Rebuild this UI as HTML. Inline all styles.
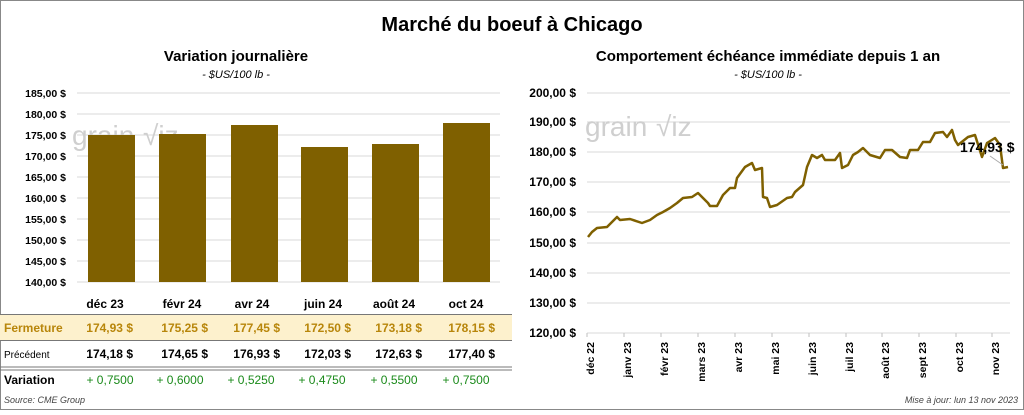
<!DOCTYPE html>
<html><head><meta charset="utf-8"><style>
body{margin:0;background:#fff;font-family:"Liberation Sans",sans-serif;}
svg text{font-family:"Liberation Sans",sans-serif;}
</style></head><body>
<svg width="1024" height="410" viewBox="0 0 1024 410" xmlns="http://www.w3.org/2000/svg">
<rect x="0.5" y="0.5" width="1023" height="409" fill="#fff" stroke="#888"/>
<text x="512" y="31" font-size="20" font-weight="bold" text-anchor="middle">Marché du boeuf à Chicago</text>
<text x="236" y="61" font-size="15" font-weight="bold" text-anchor="middle">Variation  journalière</text>
<text x="236" y="78" font-size="11" font-style="italic" text-anchor="middle">- $US/100 lb -</text>
<text x="768" y="61" font-size="15" font-weight="bold" text-anchor="middle">Comportement  échéance immédiate depuis 1 an</text>
<text x="768" y="78" font-size="11" font-style="italic" text-anchor="middle">- $US/100 lb -</text>
<!-- left grid -->
<g stroke="#d9d9d9" stroke-width="1">
<line x1="77" x2="500" y1="93" y2="93"/><line x1="77" x2="500" y1="114" y2="114"/><line x1="77" x2="500" y1="135" y2="135"/><line x1="77" x2="500" y1="156" y2="156"/><line x1="77" x2="500" y1="177" y2="177"/><line x1="77" x2="500" y1="198" y2="198"/><line x1="77" x2="500" y1="219" y2="219"/><line x1="77" x2="500" y1="240" y2="240"/><line x1="77" x2="500" y1="261" y2="261"/><line x1="77" x2="500" y1="282" y2="282"/>
</g>
<g font-size="10.5" font-weight="bold" text-anchor="end">
<text x="66" y="97">185,00 $</text><text x="66" y="118">180,00 $</text><text x="66" y="139">175,00 $</text><text x="66" y="160">170,00 $</text><text x="66" y="181">165,00 $</text><text x="66" y="202">160,00 $</text><text x="66" y="223">155,00 $</text><text x="66" y="244">150,00 $</text><text x="66" y="265">145,00 $</text><text x="66" y="286">140,00 $</text>
</g>
<text x="72" y="145" font-size="28" fill="#cfcfcf">grain</text><text x="143" y="145" font-size="28" fill="#cfcfcf">√iz</text>
<g fill="#7f6000">
<rect x="88" y="135" width="47" height="147"/><rect x="159" y="134" width="47" height="148"/><rect x="231" y="125" width="47" height="157"/><rect x="301" y="147" width="47" height="135"/><rect x="372" y="144" width="47" height="138"/><rect x="443" y="123" width="47" height="159"/>
</g>
<!-- table -->
<g font-size="12" font-weight="bold" text-anchor="middle">
<text x="105" y="308">déc 23</text><text x="182" y="308">févr 24</text><text x="252" y="308">avr 24</text><text x="323" y="308">juin 24</text><text x="394" y="308">août 24</text><text x="466" y="308">oct 24</text>
</g>
<line x1="0" x2="512" y1="314.5" y2="314.5" stroke="#777"/>
<rect x="0" y="315" width="512" height="25" fill="#fdf1cd"/>
<line x1="0" x2="512" y1="340.5" y2="340.5" stroke="#777"/>
<g font-size="12" font-weight="bold" fill="#b8860b">
<text x="4" y="332">Fermeture</text>
<g text-anchor="end"><text x="133" y="332">174,93  $</text><text x="208" y="332">175,25  $</text><text x="280" y="332">177,45  $</text><text x="351" y="332">172,50  $</text><text x="422" y="332">173,18  $</text><text x="495" y="332">178,15  $</text></g>
</g>
<text x="4" y="358" font-size="10">Précédent</text>
<g font-size="12" font-weight="bold" text-anchor="end">
<text x="133" y="358">174,18  $</text><text x="208" y="358">174,65  $</text><text x="280" y="358">176,93  $</text><text x="351" y="358">172,03  $</text><text x="422" y="358">172,63  $</text><text x="495" y="358">177,40  $</text>
</g>
<line x1="0" x2="512" y1="367" y2="367" stroke="#777"/><line x1="0" x2="512" y1="370" y2="370" stroke="#777"/>
<text x="4" y="384" font-size="12" font-weight="bold">Variation</text>
<g font-size="12" fill="#1a8a1a" text-anchor="middle">
<text x="110" y="384">+ 0,7500</text><text x="180" y="384">+ 0,6000</text><text x="251" y="384">+ 0,5250</text><text x="322" y="384">+ 0,4750</text><text x="394" y="384">+ 0,5500</text><text x="466" y="384">+ 0,7500</text>
</g>
<text x="4" y="403" font-size="9" font-style="italic" fill="#444">Source: CME Group</text>
<!-- right chart -->
<g stroke="#d9d9d9" stroke-width="1">
<line x1="587" x2="1010" y1="93" y2="93"/><line x1="587" x2="1010" y1="122" y2="122"/><line x1="587" x2="1010" y1="152" y2="152"/><line x1="587" x2="1010" y1="182" y2="182"/><line x1="587" x2="1010" y1="212" y2="212"/><line x1="587" x2="1010" y1="243" y2="243"/><line x1="587" x2="1010" y1="273" y2="273"/><line x1="587" x2="1010" y1="303" y2="303"/><line x1="587" x2="1010" y1="333" y2="333"/>
</g>
<g stroke="#bfbfbf"><line x1="587" x2="587" y1="333" y2="337"/><line x1="624" x2="624" y1="333" y2="337"/><line x1="661" x2="661" y1="333" y2="337"/><line x1="698" x2="698" y1="333" y2="337"/><line x1="735" x2="735" y1="333" y2="337"/><line x1="772" x2="772" y1="333" y2="337"/><line x1="809" x2="809" y1="333" y2="337"/><line x1="846" x2="846" y1="333" y2="337"/><line x1="882" x2="882" y1="333" y2="337"/><line x1="919" x2="919" y1="333" y2="337"/><line x1="956" x2="956" y1="333" y2="337"/><line x1="992" x2="992" y1="333" y2="337"/></g>
<g font-size="12" font-weight="bold" text-anchor="end">
<text x="576" y="97">200,00 $</text><text x="576" y="126">190,00 $</text><text x="576" y="156">180,00 $</text><text x="576" y="186">170,00 $</text><text x="576" y="216">160,00 $</text><text x="576" y="247">150,00 $</text><text x="576" y="277">140,00 $</text><text x="576" y="307">130,00 $</text><text x="576" y="337">120,00 $</text>
</g>
<g font-size="10.5" font-weight="bold" text-anchor="end">
<text transform="translate(594,342) rotate(-90)">déc 22</text>
<text transform="translate(631,342) rotate(-90)">janv 23</text>
<text transform="translate(668,342) rotate(-90)">févr 23</text>
<text transform="translate(705,342) rotate(-90)">mars 23</text>
<text transform="translate(742,342) rotate(-90)">avr 23</text>
<text transform="translate(779,342) rotate(-90)">mai 23</text>
<text transform="translate(816,342) rotate(-90)">juin 23</text>
<text transform="translate(853,342) rotate(-90)">juil 23</text>
<text transform="translate(889,342) rotate(-90)">août 23</text>
<text transform="translate(926,342) rotate(-90)">sept 23</text>
<text transform="translate(963,342) rotate(-90)">oct 23</text>
<text transform="translate(999,342) rotate(-90)">nov 23</text>
</g>
<text x="585" y="136" font-size="28" fill="#cfcfcf">grain</text><text x="656" y="136" font-size="28" fill="#cfcfcf">√iz</text>
<polyline fill="none" stroke="#7f6000" stroke-width="2.5" stroke-linejoin="round" points="588,237 592,232 597,228 607,227 617,217 620,220 630,219 642,223 650,220 657,215 663,212 670,208 677,203 683,198 692,197 698,193 708,203 710,206 717,206 723,195 730,188 735,188 737,178 745,167 752,163 755,170 762,168 763,197 767,198 770,207 777,205 787,198 792,197 795,192 803,185 807,167 812,155 817,158 822,155 825,160 835,160 840,153 842,168 848,165 853,155 858,152 863,148 870,155 880,158 885,150 892,150 900,157 907,158 910,150 918,150 923,142 930,142 935,133 943,132 947,137 952,130 955,140 958,145 968,137 975,135 982,157 987,143 995,138 1000,145 1003,168 1008,167"/>
<line x1="990" y1="156" x2="1003" y2="165" stroke="#aaa"/>
<text x="960" y="152" font-size="14" font-weight="bold">174,93 $</text>
<text x="1018" y="403" font-size="9" font-style="italic" fill="#444" text-anchor="end">Mise à jour: lun 13 nov 2023</text>
</svg>
</body></html>
